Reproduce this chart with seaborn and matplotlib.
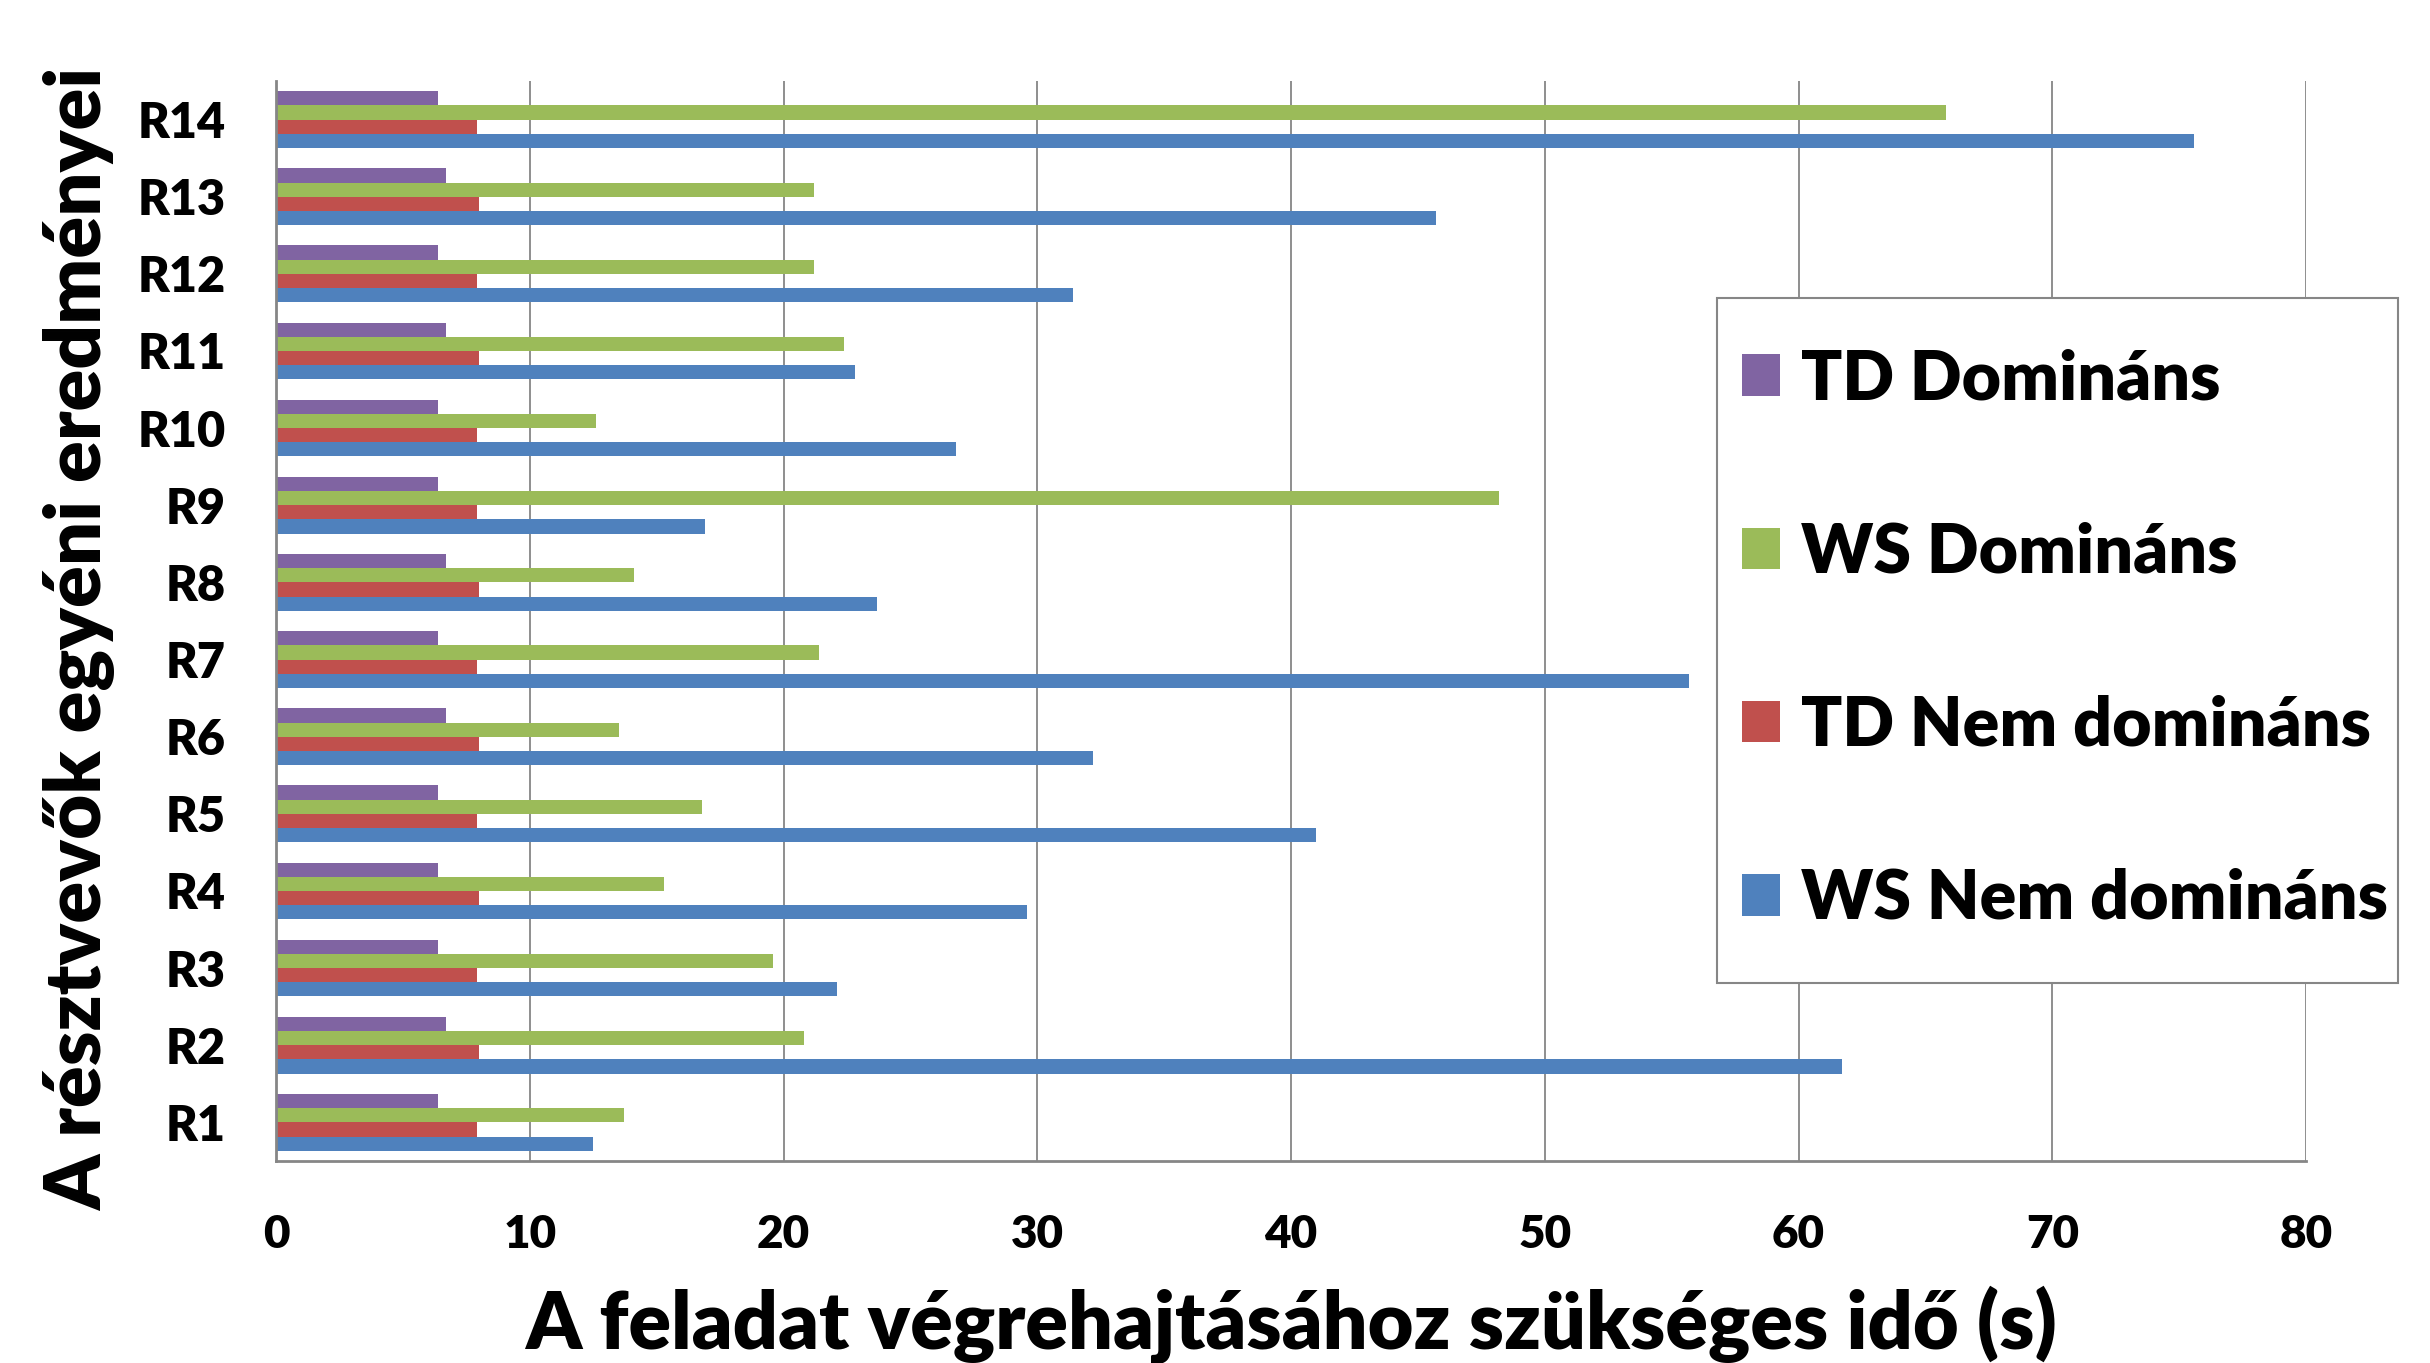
import matplotlib
matplotlib.use("Agg")
import matplotlib.pyplot as plt
import pandas as pd
import seaborn as sns
from matplotlib.patches import Rectangle

# participants, top to bottom as in the chart
participants = ["R14", "R13", "R12", "R11", "R10", "R9", "R8",
                "R7", "R6", "R5", "R4", "R3", "R2", "R1"]

td_dominans = [6.4, 6.7, 6.4, 6.7, 6.4, 6.4, 6.7, 6.4, 6.7, 6.4, 6.4, 6.4, 6.7, 6.4]
ws_dominans = [65.8, 21.2, 21.2, 22.4, 12.6, 48.2, 14.1, 21.4, 13.5, 16.8, 15.3, 19.6, 20.8, 13.7]
td_nem_dominans = [7.9, 8.0, 7.9, 8.0, 7.9, 7.9, 8.0, 7.9, 8.0, 7.9, 8.0, 7.9, 8.0, 7.9]
ws_nem_dominans = [75.6, 45.7, 31.4, 22.8, 26.8, 16.9, 23.7, 55.7, 32.2, 41.0, 29.6, 22.1, 61.7, 12.5]

series_names = ["TD Domináns", "WS Domináns", "TD Nem domináns", "WS Nem domináns"]
series_colors = ["#8064A2", "#9BBB59", "#C0504D", "#4F81BD"]

frames = []
for name, vals in zip(series_names, [td_dominans, ws_dominans, td_nem_dominans, ws_nem_dominans]):
    frames.append(pd.DataFrame({"resztvevo": participants, "ido": vals, "sorozat": name}))
df = pd.concat(frames, ignore_index=True)

sns.set_theme(style="white")
plt.rcParams["font.family"] = ["Lato", "DejaVu Sans"]
plt.rcParams["font.weight"] = "heavy"
plt.rcParams["text.color"] = "black"
plt.rcParams["xtick.color"] = "black"
plt.rcParams["ytick.color"] = "black"
plt.rcParams["axes.labelcolor"] = "black"

fig = plt.figure(figsize=(24.3, 13.63), dpi=100)
ax = fig.add_axes([0.1136, 0.1482, 0.8354, 0.7924])

sns.barplot(data=df, x="ido", y="resztvevo", hue="sorozat", order=participants,
            hue_order=series_names, palette=series_colors, orient="h",
            width=0.735, saturation=1, ax=ax, linewidth=0)

ax.set_xlim(0, 80)
ax.set_xticks(range(0, 81, 10))
ax.xaxis.grid(True, color="#868686", linewidth=1.3)
ax.set_axisbelow(True)
for side in ["top", "right"]:
    ax.spines[side].set_visible(False)
for side in ["left", "bottom"]:
    ax.spines[side].set_color("#868686")
    ax.spines[side].set_linewidth(2)

ax.tick_params(axis="x", labelsize=33, pad=38, length=0)
ax.tick_params(axis="y", labelsize=35, pad=36, length=0)
for lbl in ax.get_xticklabels() + ax.get_yticklabels():
    lbl.set_fontweight("heavy")

ax.set_xlabel("A feladat végrehajtásához szükséges idő (s)", fontsize=57,
              fontweight="heavy", labelpad=22)
ax.set_ylabel("A résztvevők egyéni eredményei", fontsize=56, fontweight="heavy")
ax.yaxis.set_label_coords(-0.079, 0.483)

# legend box drawn separately so its size matches the original
box = Rectangle((0.7066, 0.2788), 0.2802, 0.5026, transform=fig.transFigure,
                facecolor="white", edgecolor="#868686", linewidth=1.5,
                clip_on=False, zorder=4)
ax.add_patch(box)
leg = ax.legend(loc="center left", bbox_to_anchor=(0.7169, 0.5308), bbox_transform=fig.transFigure,
                fontsize=49, frameon=False, handlelength=0.56, handleheight=0.56,
                handletextpad=0.3, labelspacing=1.62, borderpad=0, borderaxespad=0)
leg.set_zorder(6)
for t in leg.get_texts():
    t.set_fontweight("heavy")

fig.savefig("out.png", dpi=100, facecolor="white")
